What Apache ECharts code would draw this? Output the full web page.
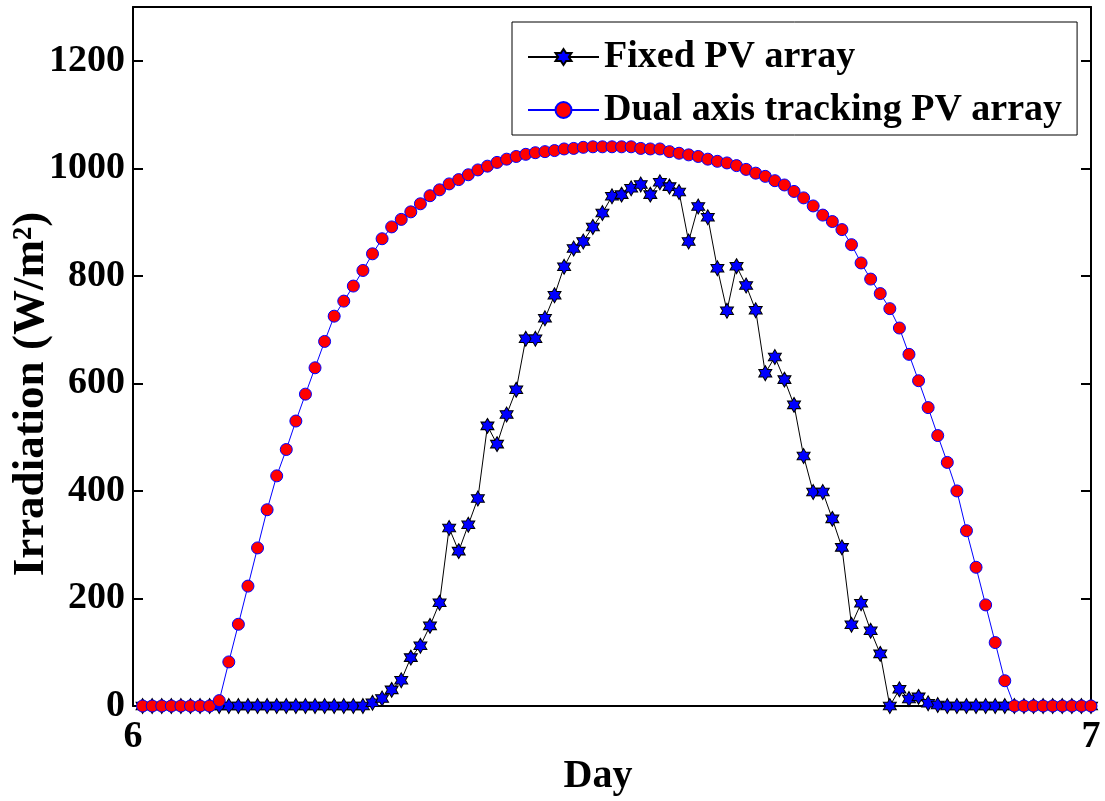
<!DOCTYPE html>
<html>
<head>
<meta charset="utf-8">
<script src="https://cdn.jsdelivr.net/npm/echarts@6/dist/echarts.min.js"></script>
<style>
  html, body { margin: 0; padding: 0; background: #fff; }
  #chart { width: 1105px; height: 801px; }
</style>
</head>
<body>
<div id="chart"></div>
<script>
// Irradiation over one day, sampled 100 times (day 6 to day 7)
const dayStart = 6;
const dayEnd = 7;
const samplesPerDay = 100;

const seriesNames = ['Fixed PV array', 'Dual axis tracking PV array'];
const xTitle = 'Day';
const yTitle = 'Irradiation (W/m²)';

// Fixed PV array irradiation (W/m²)
const fixedPV = [
  0, 0, 0, 0, 0, 0, 0, 0, 0, 0,
  0, 0, 0, 0, 0, 0, 0, 0, 0, 0,
  0, 0, 0, 0, 6, 14, 30, 48, 90, 112,
  149, 192, 331, 288, 337, 386, 521, 487, 542, 588,
  683, 683, 721, 764, 817, 851, 864, 891, 917, 948,
  951, 963, 970, 951, 974, 966, 956, 864, 929, 909,
  814, 735, 818, 782, 736, 619, 649, 607, 560, 465,
  398, 398, 348, 295, 151, 191, 140, 97, 0, 31,
  13, 17, 5, 2, 0, 0, 0, 0, 0, 0,
  0, 0, 0, 0, 0, 0, 0, 0, 0, 0
];

// Dual axis tracking PV array irradiation (W/m²)
const dualAxisPV = [
  0, 0, 0, 0, 0, 0, 0, 0, 10, 82,
  152, 223, 294, 365, 428, 477, 530, 580, 629, 678,
  725, 753, 781, 810, 841, 869, 891, 905, 919, 934,
  949, 960, 971, 979, 988, 997, 1004, 1011, 1017, 1022,
  1026, 1029, 1031, 1033, 1036, 1037, 1039, 1040, 1040, 1040,
  1040, 1040, 1037, 1036, 1036, 1031, 1028, 1025, 1022, 1017,
  1013, 1010, 1005, 998, 991, 985, 977, 969, 957, 945,
  930, 913, 901, 886, 858, 824, 794, 767, 739, 703,
  654, 605, 555, 503, 453, 400, 326, 258, 188, 118,
  47, 0, 0, 0, 0, 0, 0, 0, 0, 0
];

const xTicks = [6, 7];
const yTicks = [0, 200, 400, 600, 800, 1000, 1200];

// six-pointed star marker
const hexagram = 'path://M10 0 L12.89 5 L18.66 5 L15.77 10 L18.66 15 L12.89 15 L10 20 L7.11 15 L1.34 15 L4.23 10 L1.34 5 L7.11 5 Z';

const sampleTime = i => dayStart + (i + 1) / samplesPerDay;
const toPairs = arr => arr.map((v, i) => [sampleTime(i), v]);

const serif = '"Liberation Serif", "Times New Roman", serif';

const chart = echarts.init(document.getElementById('chart'), null, { renderer: 'canvas' });

const axisLine = { show: true, onZero: false, lineStyle: { color: '#000', width: 2 } };
const innerTicks = { show: true, inside: true, length: 10, lineStyle: { color: '#000', width: 2 } };

chart.setOption({
  animation: false,
  backgroundColor: '#fff',
  grid: { left: 133, right: 14, top: 7, bottom: 95, containLabel: false, outerBoundsMode: 'none' },
  legend: {
    data: seriesNames,
    orient: 'vertical',
    left: 512,
    top: 22,
    padding: [14, 15, 4, 15],
    itemGap: 11,
    itemWidth: 71,
    itemHeight: 20,
    borderColor: '#000',
    borderWidth: 1,
    borderRadius: 0,
    backgroundColor: '#fff',
    textStyle: { fontFamily: serif, fontWeight: 'bold', fontSize: 38, color: '#000', lineHeight: 42 }
  },
  graphic: [
    {
      type: 'text',
      x: 31,
      y: 394,
      rotation: Math.PI / 2,
      style: {
        text: yTitle,
        font: 'bold 45px ' + serif,
        fill: '#000',
        align: 'center',
        verticalAlign: 'middle'
      }
    },
    {
      type: 'text',
      x: 598,
      y: 777,
      style: {
        text: xTitle,
        font: 'bold 40px ' + serif,
        fill: '#000',
        align: 'center',
        verticalAlign: 'middle'
      }
    }
  ],
  xAxis: [
    {
      type: 'value',
      min: dayStart,
      max: dayEnd,
      interval: 1,
      position: 'bottom',
      axisLine: axisLine,
      axisTick: { show: false },
      splitLine: { show: false },
      axisLabel: {
        margin: 12,
        fontFamily: serif, fontWeight: 'bold', fontSize: 38, color: '#000',
        formatter: v => (xTicks.includes(v) ? String(v) : '')
      }
    },
    {
      type: 'value',
      min: dayStart,
      max: dayEnd,
      interval: 1,
      position: 'top',
      axisLine: axisLine,
      axisTick: { show: false },
      axisLabel: { show: false },
      splitLine: { show: false }
    }
  ],
  yAxis: [
    {
      type: 'value',
      min: 0,
      max: 1300,
      interval: 200,
      position: 'left',
      axisLine: axisLine,
      axisTick: innerTicks,
      splitLine: { show: false },
      axisLabel: {
        margin: 8,
        fontFamily: serif, fontWeight: 'bold', fontSize: 38, color: '#000',
        formatter: v => (yTicks.includes(v) ? String(v) : '')
      }
    },
    {
      type: 'value',
      min: 0,
      max: 1300,
      interval: 200,
      position: 'right',
      axisLine: axisLine,
      axisTick: innerTicks,
      axisLabel: { show: false },
      splitLine: { show: false }
    }
  ],
  series: [
    {
      name: seriesNames[0],
      type: 'line',
      data: toPairs(fixedPV),
      symbol: hexagram,
      symbolSize: [13, 15],
      showAllSymbol: true,
      lineStyle: { color: '#000', width: 1 },
      itemStyle: { color: '#0000ff', borderColor: '#000', borderWidth: 1 },
      emphasis: { disabled: true },
      z: 2
    },
    {
      name: seriesNames[1],
      type: 'line',
      data: toPairs(dualAxisPV),
      symbol: 'circle',
      symbolSize: 12,
      showAllSymbol: true,
      lineStyle: { color: '#0000ff', width: 1 },
      itemStyle: { color: '#ff0000', borderColor: '#0000ff', borderWidth: 1 },
      emphasis: { disabled: true },
      z: 3
    }
  ]
});
</script>
</body>
</html>
